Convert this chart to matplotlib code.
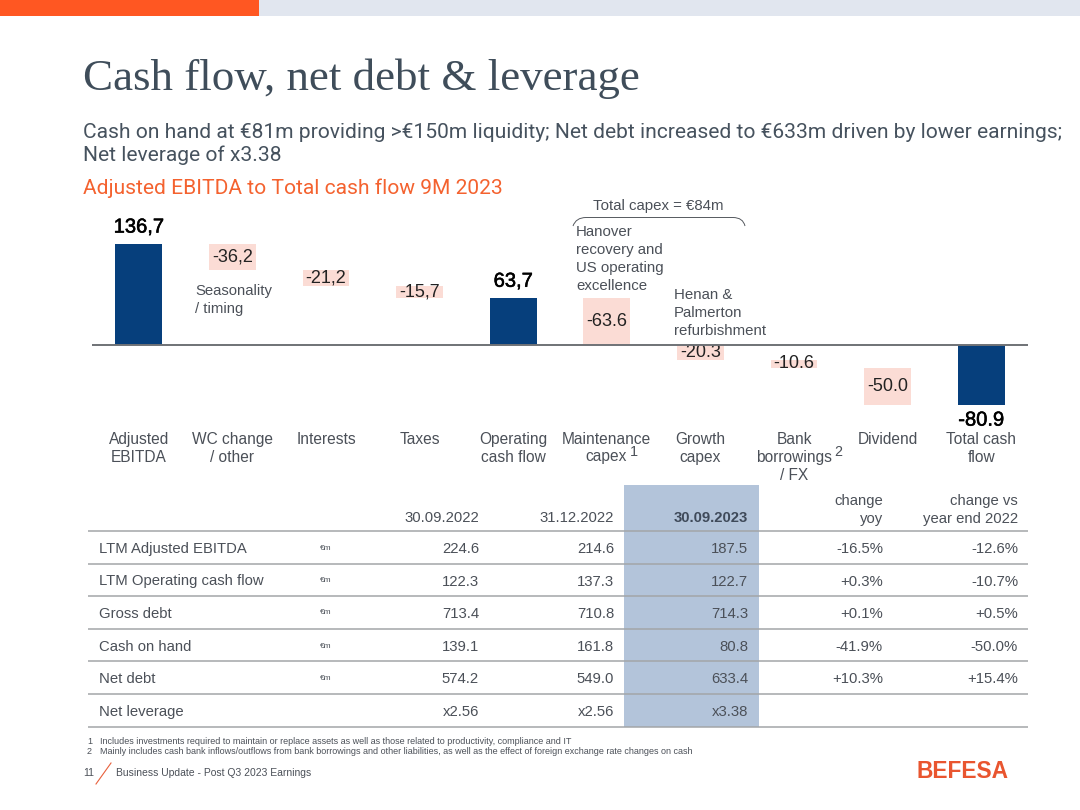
import matplotlib
matplotlib.use('Agg')
import matplotlib.pyplot as plt
import matplotlib.patheffects as pe
from matplotlib.patches import Rectangle, PathPatch
from matplotlib.path import Path

# データ
categories = ['Adjusted\nEBITDA', 'WC change\n/ other', 'Interests', 'Taxes', 'Operating\ncash flow',
              'Maintenance', 'Growth\ncapex', 'Bank\nborrowings\n/ FX', 'Dividend', 'Total cash\nflow']
values = [136.7, -36.2, -21.2, -15.7, 63.7, -63.6, -20.3, -10.6, -50.0, -80.9]
is_total = [True, False, False, False, True, False, False, False, False, True]
value_labels = ['136,7', '-36,2', '-21,2', '-15,7', '63,7', '-63.6', '-20.3', '-10.6', '-50.0', '-80.9']

col_headers = ['30.09.2022', '31.12.2022', '30.09.2023', 'change\nyoy', 'change vs\nyear end 2022']
row_names = ['LTM Adjusted EBITDA', 'LTM Operating cash flow', 'Gross debt', 'Cash on hand', 'Net debt', 'Net leverage']
row_units = ['€m', '€m', '€m', '€m', '€m', '']
col_2022q3 = ['224.6', '122.3', '713.4', '139.1', '574.2', 'x2.56']
col_2022ye = ['214.6', '137.3', '710.8', '161.8', '549.0', 'x2.56']
col_2023q3 = ['187.5', '122.7', '714.3', '80.8', '633.4', 'x3.38']
col_yoy = ['-16.5%', '+0.3%', '+0.1%', '-41.9%', '+10.3%', '']
col_ye = ['-12.6%', '-10.7%', '+0.5%', '-50.0%', '+15.4%', '']

NAVY = '#063f7c'
PINK = '#fbdcd5'
GREY = '#4b5058'
LINE = '#a3a5a8'
SANS = 'Liberation Sans'

W, H = 1080, 810
fig = plt.figure(figsize=(10.8, 8.1), dpi=100, facecolor='white')

# ページ全体 (ピクセル座標)
bg = fig.add_axes([0, 0, 1, 1])
bg.set_xlim(0, W)
bg.set_ylim(H, 0)
bg.axis('off')


def put(x, y, s, size=11.2, color=GREY, ha='left', va='center', **kw):
    kw.setdefault('family', SANS)
    return bg.text(x, y, s, fontsize=size, color=color, ha=ha, va=va, **kw)


# 上のバー
bg.add_patch(Rectangle((0, 0), W, 16, color='#e1e6ef', lw=0))
bg.add_patch(Rectangle((0, 0), 259, 16, color='#ff5722', lw=0))

put(83, 78.5, 'Cash flow, net debt & leverage', size=32.4, color='#3f4d5a', family='Liberation Serif')
put(83, 132, 'Cash on hand at €81m providing >€150m liquidity; Net debt increased to €633m driven by lower earnings;',
    size=15.15, color='#46525e', family='Roboto')
put(83, 155, 'Net leverage of x3.38', size=15.15, color='#46525e', family='Roboto')
put(83, 188, 'Adjusted EBITDA to Total cash flow 9M 2023', size=15.15, color='#f4622f', family='Roboto')

# ウォーターフォール
ax = fig.add_axes([92 / W, 1 - 415 / H, 936 / W, 215 / H])
ax.patch.set_alpha(0)
ax.set_xlim(-0.5, 9.5)
ax.set_ylim(-94.3, 195.3)
for s in ax.spines.values():
    s.set_visible(False)
ax.set_yticks([])
ax.set_xticks(range(len(categories)))
ax.set_xticklabels(categories, fontsize=11.2, color=GREY, family=SANS, linespacing=1.26, va='top')
ax.tick_params(axis='x', length=0, pad=12)

level = 0.0
for i, (v, total, lab) in enumerate(zip(values, is_total, value_labels)):
    if total:
        ax.bar(i, v, width=0.5, color=NAVY, lw=0, zorder=2)
        offset = 5 if v > 0 else -4
        t = ax.annotate(lab, (i, v), xytext=(0, offset), textcoords='offset points', ha='center',
                        va='bottom' if v > 0 else 'top', fontsize=14.5, color='black', family=SANS)
        t.set_path_effects([pe.withStroke(linewidth=0.4, foreground='black')])
        level = v
    else:
        ax.bar(i, v, bottom=level, width=0.5, color=PINK, lw=0, zorder=2)
        ax.text(i, level + v / 2, lab, ha='center', va='center', fontsize=13, color='#222222', family=SANS, zorder=3)
        level += v
ax.axhline(0, color='#6f7276', lw=1.4, zorder=4)

# 注釈
put(195, 291, 'Seasonality', size=10.7)
put(195, 309, '/ timing', size=10.7)
for y, s in zip([232, 250, 268, 286], ['Hanover', 'recovery and', 'US operating', 'excellence']):
    put(576, y, s, size=10.85)
for y, s in zip([295, 313, 331], ['Henan &', 'Palmerton', 'refurbishment']):
    put(674, y, s, size=10.85)
put(658.5, 206, 'Total capex = €84m', size=10.85, ha='center')
verts = [(573, 226), (576, 217.5), (586, 217.5), (733, 217.5), (743, 217.5), (745, 226)]
codes = [Path.MOVETO, Path.CURVE3, Path.CURVE3, Path.LINETO, Path.CURVE3, Path.CURVE3]
bg.add_patch(PathPatch(Path(verts, codes), fill=False, ec='#55595f', lw=0.7))
put(606.5, 457, 'capex', ha='center')
put(630, 452, '1', size=10.4)
put(834, 452, '2', size=10.4)

# 表
col_right = [479, 614, 748, 883, 1018]
row_y = [549, 581.5, 614, 647, 679, 712]
line_y = [531, 563.5, 596, 629, 661, 694, 727]
bg.add_patch(Rectangle((624, 485), 135, 242, color='#b3c4da', lw=0, zorder=0.5))
for y in line_y:
    bg.plot([88, 1028], [y, y], color=LINE, lw=1.1, zorder=1, solid_capstyle='butt')
for i, (x, h) in enumerate(zip(col_right, col_headers)):
    parts = h.split('\n')
    for j, s in enumerate(reversed(parts)):
        put(x, 518.5 - j * 17, s, ha='right', size=10.7, fontweight='bold' if i == 2 else 'normal',
            color='#3f4a5a' if i == 2 else GREY)
columns = [col_2022q3, col_2022ye, col_2023q3, col_yoy, col_ye]
for r, y in enumerate(row_y):
    put(99, y, row_names[r], size=10.7)
    put(320, y - 1, row_units[r], size=6)
    for x, col in zip(col_right, columns):
        put(x, y, col[r], ha='right', size=10.7)

# 脚注
put(87, 741, '1', size=6.5)
put(100, 741, 'Includes investments required to maintain or replace assets as well as those related to productivity, compliance and IT', size=6.5)
put(87, 752, '2', size=6.5)
put(100, 752, 'Mainly includes cash bank inflows/outflows from bank borrowings and other liabilities, as well as the effect of foreign exchange rate changes on cash', size=6.5)

# フッター
put(83, 773, '11', size=7.6)
bg.plot([96, 111], [784, 763], color='#e8603c', lw=0.8)
put(116, 773, 'Business Update - Post Q3 2023 Earnings', size=7.45)
put(917, 772, 'BEFESA', size=16.4, color='#e9552f', fontweight='bold')

fig.savefig('out.png', dpi=100)
